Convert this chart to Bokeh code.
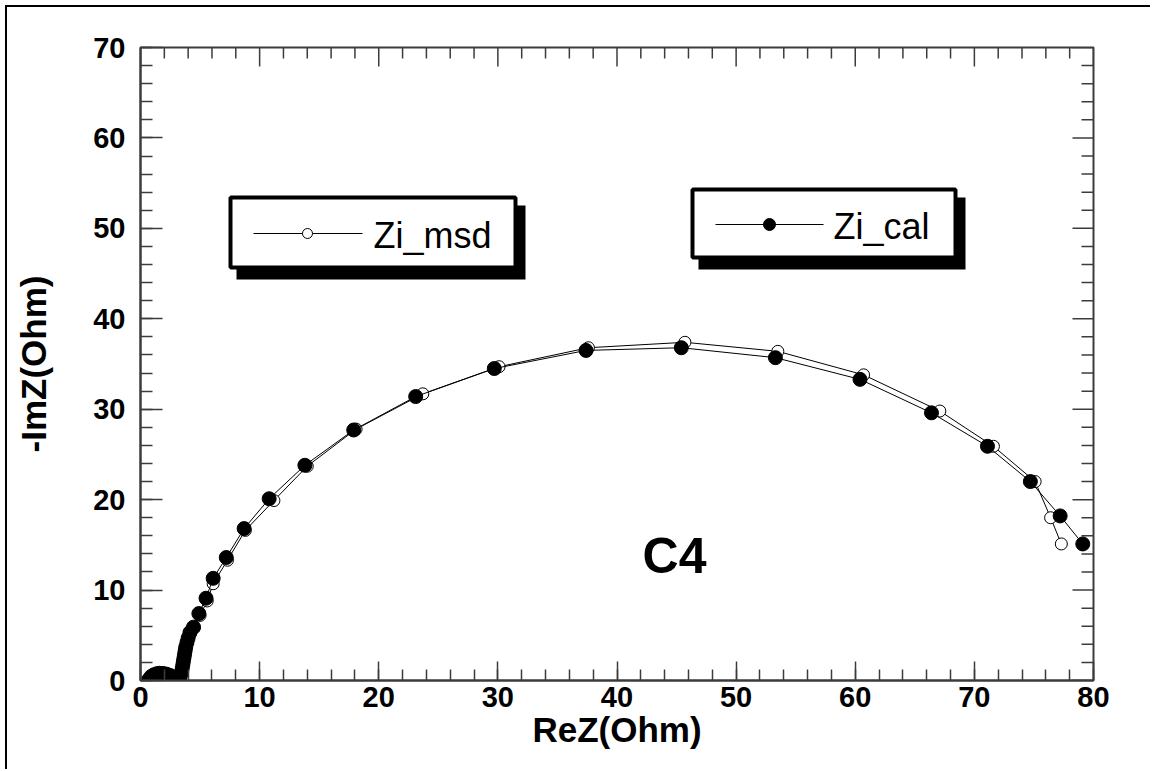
from bokeh.plotting import figure
from bokeh.models import Range1d, FixedTicker, Label
from bokeh.core.properties import value
from bokeh.embed import file_html
from bokeh.resources import INLINE

# ---- data ----
msd_re = [0.65, 0.75, 0.9, 1.1, 1.35, 1.6, 1.9, 2.2, 2.5, 2.75, 2.95, 3.1, 3.25, 3.35, 3.45,
          3.5, 3.55, 3.6, 3.65, 3.7, 3.75, 3.8, 3.9, 4.0, 4.2, 4.5, 5.0, 5.6, 6.1, 7.3, 8.8,
          11.2, 14.0, 18.1, 23.7, 30.1, 37.6, 45.7, 53.5, 60.7, 67.1, 71.6, 75.1, 76.4, 77.3]
msd_im = [0.0, 0.2, 0.45, 0.62, 0.75, 0.8, 0.78, 0.7, 0.55, 0.35, 0.15, 0.05, 0.2, 0.5, 0.9,
          1.3, 1.7, 2.1, 2.5, 2.9, 3.3, 3.7, 4.2, 4.7, 5.2, 5.8, 7.2, 8.8, 10.7, 13.3, 16.6,
          19.9, 23.7, 27.8, 31.7, 34.7, 36.8, 37.4, 36.4, 33.8, 29.8, 25.9, 22.0, 18.0, 15.1]
cal_re = [0.65, 0.75, 0.9, 1.1, 1.35, 1.6, 1.9, 2.2, 2.5, 2.75, 2.95, 3.1, 3.25, 3.35, 3.45,
          3.5, 3.55, 3.6, 3.65, 3.7, 3.75, 3.8, 3.9, 4.0, 4.15, 4.45, 4.9, 5.5, 6.1, 7.2, 8.7,
          10.8, 13.8, 17.9, 23.1, 29.7, 37.4, 45.4, 53.3, 60.4, 66.4, 71.1, 74.7, 77.2, 79.1]
cal_im = [0.0, 0.2, 0.45, 0.62, 0.75, 0.8, 0.78, 0.7, 0.55, 0.35, 0.15, 0.05, 0.2, 0.5, 0.9,
          1.3, 1.7, 2.1, 2.5, 2.9, 3.3, 3.7, 4.2, 4.7, 5.3, 5.9, 7.4, 9.1, 11.3, 13.6, 16.8,
          20.1, 23.8, 27.7, 31.4, 34.5, 36.5, 36.8, 35.7, 33.3, 29.6, 25.9, 22.0, 18.2, 15.1]

x_ticks = [0, 10, 20, 30, 40, 50, 60, 70, 80]
x_minor = list(range(0, 81, 2))
y_ticks = [0, 10, 20, 30, 40, 50, 60, 70]
y_minor = list(range(0, 71, 2))
series_names = ["Zi_msd", "Zi_cal"]
annotation = "C4"

FONT = "Liberation Sans"
AX_COLOR = "#3c3c3c"
XPX = 953 / 80   # pixels per x unit
YPX = 633 / 70   # pixels per y unit

# page-pixel -> data helpers for decorations (frame: x 140..1093, y 47..680)
def px2x(px):
    return (px - 140) / XPX

def py2y(py):
    return (680 - py) / YPX

p = figure(width=1145, height=764, x_range=Range1d(0, 80), y_range=Range1d(0, 70),
           output_backend="svg", toolbar_location=None,
           min_border_left=133, min_border_right=59, min_border_top=40, min_border_bottom=91)
# outer page frame: top and left edges only
p.styles = {"margin-left": "7px", "margin-top": "7px",
            "box-shadow": "-2px -2px 0px 0px black"}
p.outline_line_color = AX_COLOR
p.outline_line_width = 2
p.xgrid.visible = False
p.ygrid.visible = False
p.background_fill_color = "white"
p.border_fill_color = "white"


def style_axis(ax, ticks, minor, tick_in, minor_in):
    ax.ticker = FixedTicker(ticks=ticks, minor_ticks=minor)
    ax.axis_line_color = AX_COLOR
    ax.axis_line_width = 2
    ax.major_tick_line_color = AX_COLOR
    ax.major_tick_line_width = 1.5
    ax.minor_tick_line_color = AX_COLOR
    ax.minor_tick_line_width = 1.5
    ax.major_tick_in = tick_in
    ax.major_tick_out = 0
    ax.minor_tick_in = minor_in
    ax.minor_tick_out = 0
    ax.major_label_text_font = FONT
    ax.major_label_text_font_style = "bold"
    ax.major_label_text_color = "black"
    ax.major_label_text_font_size = "29px"
    ax.axis_label_text_font = FONT
    ax.axis_label_text_font_style = "bold"
    ax.axis_label_text_font_size = "35px"
    ax.axis_label_text_color = "black"

xa = p.xaxis[0]
style_axis(xa, x_ticks, x_minor, 19, 11)
xa.major_label_standoff = 6
xa.axis_label = "ReZ(Ohm)"
xa.axis_label_standoff = 0

ya = p.yaxis[0]
style_axis(ya, y_ticks, y_minor, 22, 12)
ya.major_label_standoff = 15
ya.axis_label = "-ImZ(Ohm)"
ya.axis_label_standoff = 37

# inward ticks on the top and right frame edges (from the same tick lists)
top_len = {t: (19 if t in x_ticks else 11) / YPX for t in x_minor}
p.segment(x0=x_minor, x1=x_minor, y0=[70] * len(x_minor),
          y1=[70 - top_len[t] for t in x_minor], line_color=AX_COLOR, line_width=1.5)
right_len = {t: (21 if t in y_ticks else 12) / XPX for t in y_minor}
p.segment(x0=[80] * len(y_minor), x1=[80 - right_len[t] for t in y_minor],
          y0=y_minor, y1=y_minor, line_color=AX_COLOR, line_width=1.5)

# ---- data series ----
p.line(msd_re, msd_im, line_color="black", line_width=1)
p.scatter(msd_re, msd_im, marker="circle", size=12, fill_color="white",
          line_color="black", line_width=1)
p.line(cal_re, cal_im, line_color="black", line_width=1)
p.scatter(cal_re, cal_im, marker="circle", size=14, fill_color="black",
          line_color="black")

# ---- legend boxes with shadows ----
def legend_box(l, r, t, b, dx, dy):
    p.quad(left=px2x(l - 2 + dx), right=px2x(r + 2 + dx), top=py2y(t - 2 + dy),
           bottom=py2y(b + 2 + dy), fill_color="black", line_color=None)
    p.quad(left=px2x(l), right=px2x(r), top=py2y(t), bottom=py2y(b),
           fill_color="white", line_color="black", line_width=4)

legend_box(230, 515, 197, 267, 8, 10)
legend_box(692, 955, 189, 257, 8, 10)

p.line([px2x(253), px2x(362)], [py2y(233), py2y(233)], line_color="black", line_width=1)
p.scatter([px2x(307)], [py2y(233)], marker="circle", size=10, fill_color="white",
          line_color="black", line_width=1)
p.add_layout(Label(x=px2x(373), y=py2y(235), text=series_names[0], text_font=FONT,
                   text_font_size="36px", text_color="black", text_baseline="middle",
                   text_align="left"))

p.line([px2x(715), px2x(823)], [py2y(224), py2y(224)], line_color="black", line_width=1)
p.scatter([px2x(769)], [py2y(224)], marker="circle", size=12, fill_color="black",
          line_color="black")
p.add_layout(Label(x=px2x(833), y=py2y(226), text=series_names[1], text_font=FONT,
                   text_font_size="36px", text_color="black", text_baseline="middle",
                   text_align="left"))

p.add_layout(Label(x=px2x(674), y=py2y(555), text=annotation, text_font=FONT,
                   text_font_size="50px", text_font_style="bold", text_color="black",
                   text_align="center", text_baseline="middle"))

open("out.html", "w").write(file_html(p, INLINE))
